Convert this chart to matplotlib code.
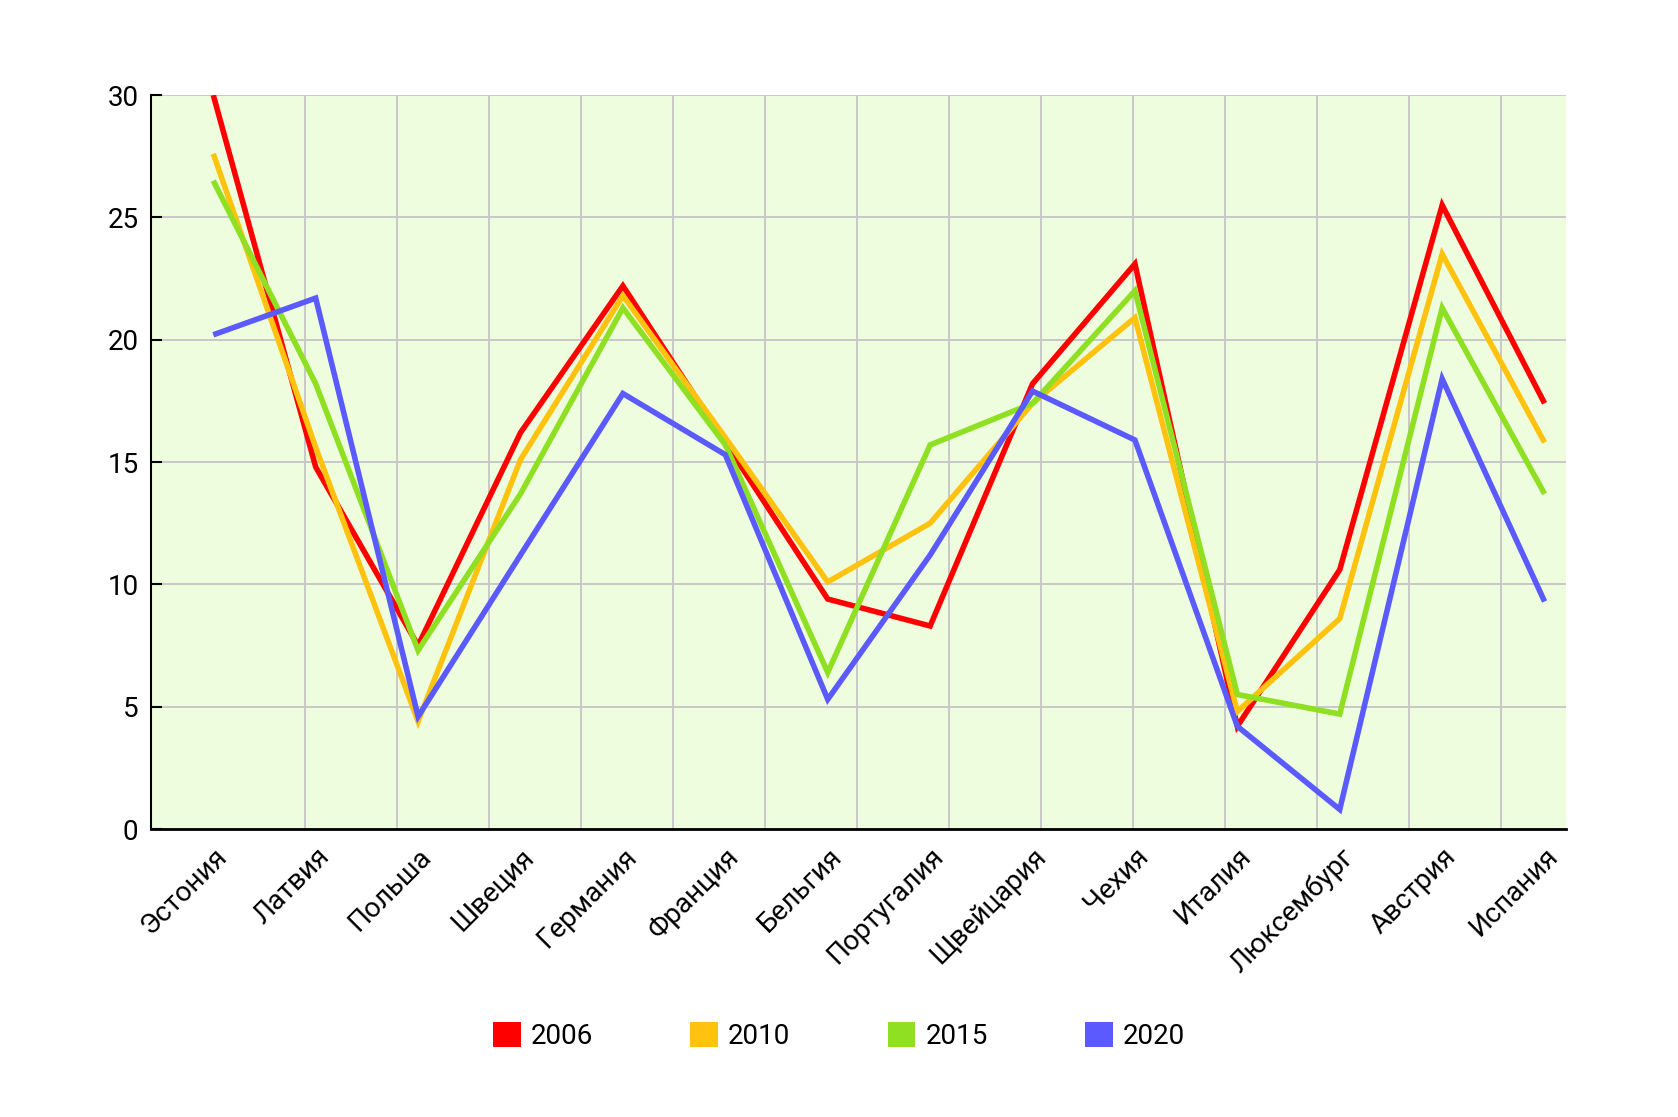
import numpy as np
import matplotlib.pyplot as plt
from matplotlib.patches import Patch

plt.rcParams['font.family'] = ['Roboto', 'DejaVu Sans']

# Data
countries = ['Эстония', 'Латвия', 'Польша', 'Швеция', 'Германия', 'Франция', 'Бельгия',
             'Португалия', 'Щвейцария', 'Чехия', 'Италия', 'Люксембург', 'Австрия', 'Испания']
years = ['2006', '2010', '2015', '2020']
v2006 = [30.0, 14.8, 7.5, 16.2, 22.2, 15.8, 9.4, 8.3, 18.2, 23.1, 4.2, 10.6, 25.5, 17.4]
v2010 = [27.6, 15.6, 4.4, 15.1, 21.8, 16.0, 10.1, 12.5, 17.4, 20.9, 4.8, 8.6, 23.5, 15.8]
v2015 = [26.5, 18.2, 7.3, 13.7, 21.3, 15.7, 6.4, 15.7, 17.4, 22.0, 5.5, 4.7, 21.3, 13.7]
v2020 = [20.2, 21.7, 4.6, 11.2, 17.8, 15.3, 5.3, 11.2, 17.9, 15.9, 4.2, 0.8, 18.4, 9.3]
yticks = [0, 5, 10, 15, 20, 25, 30]

colors = ['#ff0000', '#ffc20e', '#8fdf22', '#5a5aff']
series = [v2006, v2010, v2015, v2020]

fig = plt.figure(figsize=(16.78, 11.17), dpi=100)
ax = fig.add_axes([0.0900, 0.2578, 0.8433, 0.6571])
ax.set_facecolor('#effddf')

x = np.arange(len(countries))
for vals, c in zip(series, colors):
    ax.plot(x, vals, color=c, linewidth=4.0, solid_capstyle='butt', solid_joinstyle='miter')

ax.set_xlim(-0.608, 13.21)
ax.set_ylim(0, 30)

# vertical grid does not line up with the categories in the original
ax.set_xticks(np.arange(15) * 0.8984, minor=True)
ax.set_xticks(x, countries)
ax.set_yticks(yticks)

ax.grid(axis='x', which='minor', color='#c8c8c8', linewidth=1.4)
ax.grid(axis='x', which='major', visible=False)
ax.grid(axis='y', which='major', color='#c8c8c8', linewidth=1.4)
ax.set_axisbelow(True)

ax.tick_params(axis='x', which='both', length=0)
ax.tick_params(axis='x', which='major', pad=10, labelsize=20)
ax.tick_params(axis='y', direction='in', length=8, width=1.5, pad=9, labelsize=20)
for lab in ax.get_xticklabels():
    lab.set_rotation(45)
    lab.set_ha('right')
    lab.set_va('top')
    lab.set_rotation_mode('anchor')

for s in ['top', 'right']:
    ax.spines[s].set_visible(False)
ax.spines['left'].set_linewidth(1.5)
ax.spines['bottom'].set_linewidth(2)

handles = [Patch(facecolor=c, edgecolor='none') for c in colors]
fig.legend(handles, years, loc='center', bbox_to_anchor=(0.5, 0.0725), ncol=4,
           frameon=False, fontsize=20, handlelength=1.0, handleheight=1.0,
           handletextpad=0.36, columnspacing=3.5)

fig.savefig('out.png', dpi=100)
